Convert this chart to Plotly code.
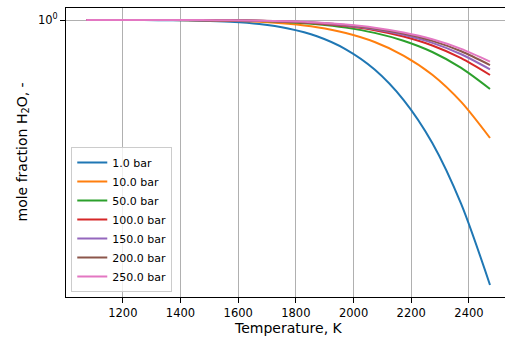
import plotly.graph_objects as go

temperature_K = [1073, 1173, 1273, 1373, 1473, 1573, 1673, 1773, 1873, 1973, 2073, 2173, 2273, 2373, 2473]

x_h2o_1bar = [0.9999992, 0.9999956, 0.9999823, 0.9999367, 0.999818, 0.999535, 0.998960, 0.997819,
              0.995873, 0.992593, 0.987518, 0.979957, 0.969273, 0.954388, 0.934973]
x_h2o_10bar = [0.9999997, 0.999998, 0.999992, 0.999972, 0.999919, 0.999793, 0.999537, 0.999029,
               0.998160, 0.996694, 0.994423, 0.991025, 0.986198, 0.979426, 0.970503]
x_h2o_50bar = [0.9999998, 0.9999989, 0.9999954, 0.9999835, 0.9999526, 0.999879, 0.999729, 0.999432,
               0.998924, 0.998066, 0.996734, 0.994742, 0.991906, 0.987917, 0.982643]
x_h2o_100bar = [0.9999998, 0.9999991, 0.9999963, 0.9999869, 0.9999623, 0.999904, 0.999784, 0.999547,
                0.999142, 0.998458, 0.997397, 0.995808, 0.993545, 0.990360, 0.986145]
x_h2o_150bar = [0.9999999, 0.9999992, 0.9999967, 0.9999882, 0.9999662, 0.999914, 0.999806, 0.999594,
                0.999231, 0.998618, 0.997666, 0.996241, 0.994212, 0.991354, 0.987572]
x_h2o_200bar = [0.9999999, 0.9999993, 0.999997, 0.9999892, 0.9999691, 0.999921, 0.999823, 0.999629,
                0.999297, 0.998737, 0.997867, 0.996564, 0.994709, 0.992095, 0.988635]
x_h2o_250bar = [0.9999999, 0.9999993, 0.9999972, 0.9999901, 0.9999714, 0.999927, 0.999837, 0.999657,
                0.999351, 0.998833, 0.998030, 0.996826, 0.995112, 0.992697, 0.989499]

series_names = ["1.0 bar", "10.0 bar", "50.0 bar", "100.0 bar", "150.0 bar", "200.0 bar", "250.0 bar"]
series_values = [x_h2o_1bar, x_h2o_10bar, x_h2o_50bar, x_h2o_100bar, x_h2o_150bar, x_h2o_200bar, x_h2o_250bar]
series_colors = ["#1f77b4", "#ff7f0e", "#2ca02c", "#d62728", "#9467bd", "#8c564b", "#e377c2"]

x_tick_values = [1200, 1400, 1600, 1800, 2000, 2200, 2400]
y_tick_values = [1]
y_tick_labels = ["10<sup>0</sup>"]
x_title = "Temperature, K"
y_title = "mole fraction H<sub>2</sub>O, -"

fig = go.Figure()
for name, vals, col in zip(series_names, series_values, series_colors):
    fig.add_trace(go.Scatter(x=temperature_K, y=vals, name=name, mode="lines",
                             line=dict(color=col, width=2, shape="spline", smoothing=0.8)))

font_family = "DejaVu Sans, sans-serif"
W, H = 505, 341
ML, MR, MT, MB = 66, 0, 8, 44
fig.update_layout(
    width=W, height=H,
    margin=dict(l=ML, r=MR, t=MT, b=MB, autoexpand=False),
    paper_bgcolor="white", plot_bgcolor="white",
    font=dict(family=font_family, size=11.5, color="black"),
    showlegend=True,
    legend=dict(x=0.012, y=0.017, xanchor="left", yanchor="bottom",
                bgcolor="rgba(255,255,255,0.8)", bordercolor="#cccccc", borderwidth=1,
                font=dict(size=11, family=font_family), tracegroupgap=0),
    xaxis=dict(range=[1003, 2525], tickvals=x_tick_values, showgrid=True, gridcolor="#b0b0b0",
               gridwidth=1, showline=True, linecolor="black", linewidth=1, mirror=True,
               ticks="outside", ticklen=5, tickcolor="black", zeroline=False, automargin=False,
               tickfont=dict(size=11.5)),
    yaxis=dict(type="log", range=[-0.030524, 0.001322], tickvals=y_tick_values, ticktext=y_tick_labels,
               showgrid=True, gridcolor="#b0b0b0", gridwidth=1, showline=True, linecolor="black",
               linewidth=1, mirror=False, ticks="outside", ticklen=5, tickcolor="black", zeroline=False,
               automargin=False, tickfont=dict(size=11.5)),
    annotations=[
        dict(text=x_title, xref="paper", yref="paper", x=(288.5 - ML) / (W - ML - MR),
             y=-(328 - MT - (H - MT - MB)) / (H - MT - MB), xanchor="center", yanchor="middle",
             showarrow=False, font=dict(size=14)),
        dict(text=y_title, xref="paper", yref="paper", x=-(ML - 22) / (W - ML - MR), y=0.5,
             xanchor="center", yanchor="middle", textangle=-90, showarrow=False, font=dict(size=14)),
    ],
)

fig.write_html("out.html", config={"displayModeBar": False},
               post_script="document.body.style.margin='0';document.body.style.overflow='hidden';")
